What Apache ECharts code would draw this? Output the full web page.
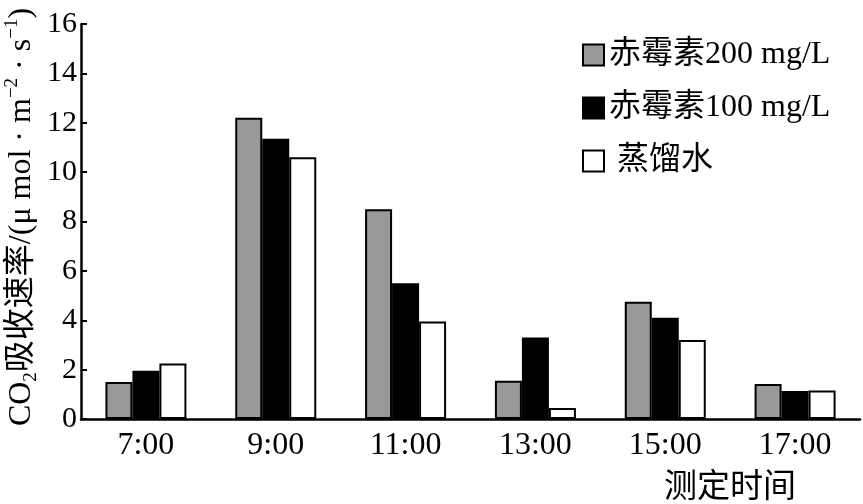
<!DOCTYPE html>
<html>
<head>
<meta charset="utf-8">
<script src="https://cdn.jsdelivr.net/npm/echarts@6/dist/echarts.min.js"></script>
<style>html,body{margin:0;padding:0;background:#fff}#c{width:863px;height:504px}</style>
</head>
<body>
<div id="c"></div>
<script>
const categories = ['7:00', '9:00', '11:00', '13:00', '15:00', '17:00'];
const seriesNames = ['赤霉素200 mg/L', '赤霉素100 mg/L', ' 蒸馏水'];
const ga200 = [1.5, 12.2, 8.5, 1.55, 4.75, 1.42];
const ga100 = [1.95, 11.35, 5.5, 3.3, 4.1, 1.13];
const water = [2.25, 10.6, 3.95, 0.45, 3.2, 1.15];
const yTicks = { min: 0, max: 16, interval: 2 };

const FONT = '"Liberation Serif", "Noto Sans CJK SC", serif';
const colors = ['#999999', '#000000', '#ffffff'];
const datasets = [ga200, ga100, water];

const chart = echarts.init(document.getElementById('c'), null, { renderer: 'canvas' });
chart.setOption({
  backgroundColor: '#ffffff',
  animation: false,
  textStyle: { fontFamily: FONT, color: '#000' },
  grid: { left: 81, right: 3, top: 24, bottom: 85, containLabel: false, outerBoundsMode: 'none' },
  legend: {
    orient: 'vertical',
    left: 582,
    top: 39,
    padding: 0,
    itemWidth: 21,
    itemHeight: 21,
    itemGap: 21,
    icon: 'rect',
    textStyle: { fontFamily: FONT, fontSize: 32, color: '#000' },
    data: seriesNames
  },
  xAxis: {
    type: 'category',
    data: categories,
    boundaryGap: true,
    axisLine: { lineStyle: { color: '#000', width: 2.5 } },
    axisTick: { inside: true, length: 8, lineStyle: { color: '#000', width: 2.5 } },
    axisLabel: { fontFamily: FONT, fontSize: 32, color: '#000', margin: 11 },
    name: '测定时间',
    nameLocation: 'end',
    nameGap: 0,
    nameTextStyle: { fontFamily: FONT, fontSize: 33, color: '#000', align: 'right', verticalAlign: 'top', padding: [53, 64, 0, 0] }
  },
  yAxis: {
    type: 'value',
    min: yTicks.min,
    max: yTicks.max,
    interval: yTicks.interval,
    axisLine: { show: true, lineStyle: { color: '#000', width: 2.5 } },
    axisTick: { show: true, inside: true, length: 6, lineStyle: { color: '#000', width: 2 } },
    splitLine: { show: false },
    axisLabel: { fontFamily: FONT, fontSize: 30, color: '#000', margin: 4 }
  },
  graphic: [{
    type: 'text',
    x: 22,
    y: 217,
    rotation: Math.PI / 2,
    style: {
      text: 'CO{sub|2}吸收速率/(μ mol · m{sup|−2} · s{sup|−1})',
      fontFamily: FONT,
      fontSize: 32,
      fill: '#000',
      align: 'center',
      verticalAlign: 'middle',
      lineHeight: 38,
      rich: {
        sub: { fontFamily: FONT, fontSize: 19, verticalAlign: 'bottom', lineHeight: 38, fill: '#000' },
        sup: { fontFamily: FONT, fontSize: 19, verticalAlign: 'top', lineHeight: 38, fill: '#000' }
      }
    }
  }],
  series: datasets.map((d, i) => ({
    name: seriesNames[i],
    type: 'bar',
    data: d,
    barWidth: 27,
    barGap: '0%',
    itemStyle: { color: colors[i], borderColor: '#000', borderWidth: 2 }
  }))
});
</script>
</body>
</html>
